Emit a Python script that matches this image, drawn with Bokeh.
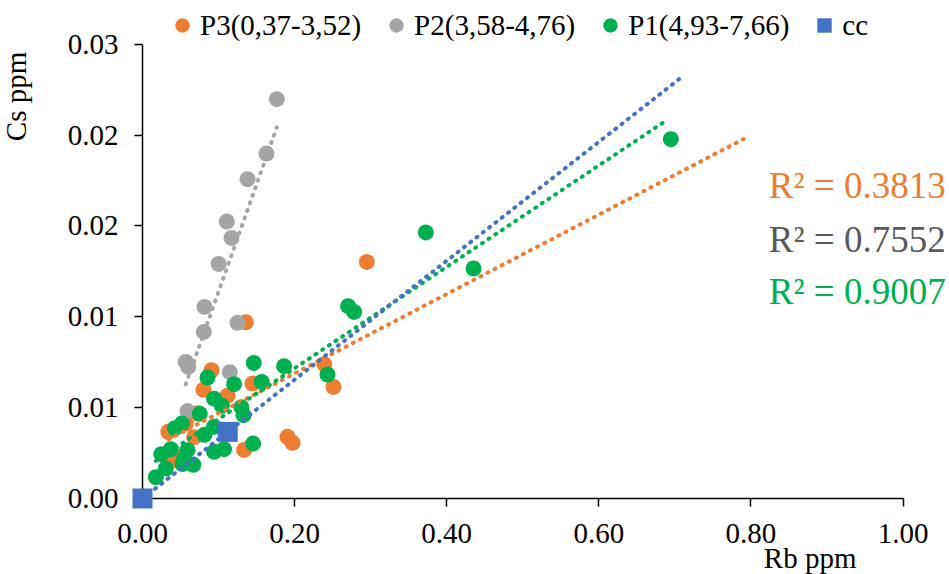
import numpy as np
from bokeh.plotting import figure
from bokeh.models import Range1d, FixedTicker, Legend, LegendItem, Label
from bokeh.embed import file_html
from bokeh.resources import INLINE

# ---------------- data ----------------
series_names = ["P3(0,37-3,52)", "P2(3,58-4,76)", "P1(4,93-7,66)", "cc"]
series_colors = ["#ED7D31", "#A5A5A5", "#00B050", "#4472C4"]

p3_rb = [0.2949, 0.1358, 0.2390, 0.2511, 0.1906, 0.1972, 0.1446, 0.0907, 0.0802,
         0.1118, 0.0339, 0.1336, 0.0679, 0.0477, 0.0569, 0.0405, 0.0723]
p3_cs = [0.01562, 0.01164, 0.00887, 0.00737, 0.00407, 0.00368, 0.00759, 0.00847, 0.00718,
         0.00679, 0.00440, 0.00321, 0.00405, 0.00275, 0.00495, 0.00253, 0.00563]

p2_rb = [0.1766, 0.1630, 0.1380, 0.1108, 0.1170, 0.1000, 0.0815, 0.0806, 0.1249,
         0.0569, 0.0602, 0.1148, 0.0591]
p2_cs = [0.02637, 0.02278, 0.02109, 0.01829, 0.01721, 0.01549, 0.01265, 0.01100, 0.01160,
         0.00902, 0.00869, 0.00834, 0.00577]

p1_rb = [0.6946, 0.3725, 0.4352, 0.2703, 0.2782, 0.2432, 0.1862, 0.1463, 0.1568, 0.0855,
         0.1204, 0.0941, 0.1043, 0.1299, 0.1328, 0.0753, 0.0517, 0.0425, 0.0941, 0.0815,
         0.1453, 0.0941, 0.1073, 0.0247, 0.0372, 0.0592, 0.0526, 0.0668, 0.0306, 0.0175,
         0.0547]
p1_cs = [0.02373, 0.01757, 0.01519, 0.01270, 0.01232, 0.00819, 0.00874, 0.00895, 0.00770, 0.00799,
         0.00755, 0.00659, 0.00613, 0.00603, 0.00550, 0.00559, 0.00495, 0.00464, 0.00473, 0.00421,
         0.00363, 0.00308, 0.00326, 0.00293, 0.00326, 0.00319, 0.00227, 0.00223, 0.00198, 0.00141,
         0.00264]

cc_rb = [0.0, 0.1121]
cc_cs = [0.0, 0.00440]

# linear trend lines (order: P3, P2, P1, cc)
trend_x_start = [0.034, 0.0569, 0.0175, 0.0]
trend_x_end = [0.795, 0.1766, 0.686, 0.712]
trend_slope = [0.02623, 0.1418, 0.03349, 0.03925]
trend_intercept = [0.00301, -0.00053, 0.00190, 0.0]

r2_texts = ["R² = 0.3813", "R² = 0.7552", "R² = 0.9007"]
r2_colors = ["#ED7D31", "#595959", "#00B050"]

x_ticks = [0.0, 0.2, 0.4, 0.6, 0.8, 1.0]
x_tick_labels = ["0.00", "0.20", "0.40", "0.60", "0.80", "1.00"]
y_ticks = [0.0, 0.006, 0.012, 0.018, 0.024, 0.030]
y_tick_labels = ["0.00", "0.01", "0.01", "0.02", "0.02", "0.03"]

# ---------------- figure ----------------
FONT = "Liberation Serif"
W, H = 949, 574
axis_x_px, axis_y_px = 142, 498          # canvas position of x=0 / y=0
px_per_x = 760.6
px_per_y = 454.3 / 0.03

# the plotting frame covers the whole canvas; axes are pinned at x=0 / y=0
p = figure(width=W, height=H, output_backend="svg", toolbar_location=None,
           min_border_left=0, min_border_right=0, min_border_top=0, min_border_bottom=0,
           x_range=Range1d(-axis_x_px / px_per_x, (W - axis_x_px) / px_per_x),
           y_range=Range1d(-(H - axis_y_px) / px_per_y, axis_y_px / px_per_y))
p.outline_line_color = None
p.xgrid.visible = False
p.ygrid.visible = False
p.background_fill_color = "white"
p.border_fill_color = "white"

for ax, ticks, labels, bounds in ((p.xaxis, x_ticks, x_tick_labels, (0, 1.0)),
                                  (p.yaxis, y_ticks, y_tick_labels, (0, 0.03))):
    ax.ticker = FixedTicker(ticks=ticks)
    ax.major_label_overrides = {t: l for t, l in zip(ticks, labels)}
    ax.bounds = bounds
    ax.fixed_location = 0
    ax.minor_tick_line_color = None
    ax.major_tick_in = 0
    ax.major_tick_out = 8
    ax.axis_line_color = "black"
    ax.axis_line_width = 1.5
    ax.major_tick_line_color = "black"
    ax.major_tick_line_width = 1.5
    ax.major_label_text_font = FONT
    ax.major_label_text_font_size = "29px"
    ax.major_label_text_color = "black"
p.xaxis.major_label_standoff = 17
p.yaxis.major_label_standoff = 16

renderers = []
for xs, ys, col, marker, size in ((p3_rb, p3_cs, series_colors[0], "circle", 16),
                                  (p2_rb, p2_cs, series_colors[1], "circle", 16),
                                  (p1_rb, p1_cs, series_colors[2], "circle", 16),
                                  (cc_rb, cc_cs, series_colors[3], "square", 20)):
    r = p.scatter(xs, ys, marker=marker, size=size, fill_color=col, line_color=None)
    renderers.append(r)

for x0, x1, m, b, col in zip(trend_x_start, trend_x_end, trend_slope, trend_intercept, series_colors):
    tx = np.array([x0, x1])
    p.line(tx, m * tx + b, line_color=col, line_width=4, line_dash="1 7", line_cap="round")

# the cc markers sit on top of the axes, as in the reference
renderers[3].level = "overlay"

legend = Legend(items=[LegendItem(label=n, renderers=[r]) for n, r in zip(series_names, renderers)],
                orientation="horizontal", location=(164, H - 43),
                glyph_width=36, glyph_height=36, label_standoff=-4, spacing=17,
                padding=0, margin=0, border_line_alpha=0, background_fill_alpha=0,
                label_text_font=FONT, label_text_font_size="29px", label_text_color="black")
p.add_layout(legend)

r2_y = [0.02067, 0.01710, 0.01367]
for t, c, yy in zip(r2_texts, r2_colors, r2_y):
    p.add_layout(Label(x=0.8234, y=yy, text=t, text_color=c, text_font=FONT,
                       text_font_size="37px", text_baseline="middle", text_align="left"))

# axis titles, placed as in the reference
p.add_layout(Label(x=0.8169, y=-0.00393, text="Rb ppm", text_font=FONT, text_font_size="29px",
                   text_baseline="middle", text_align="left", text_color="black"))
p.add_layout(Label(x=-0.1657, y=0.02655, text="Cs ppm", text_font=FONT, text_font_size="29px",
                   text_baseline="middle", text_align="center", angle=np.pi / 2,
                   text_color="black"))

open("out.html", "w").write(file_html(p, INLINE))
